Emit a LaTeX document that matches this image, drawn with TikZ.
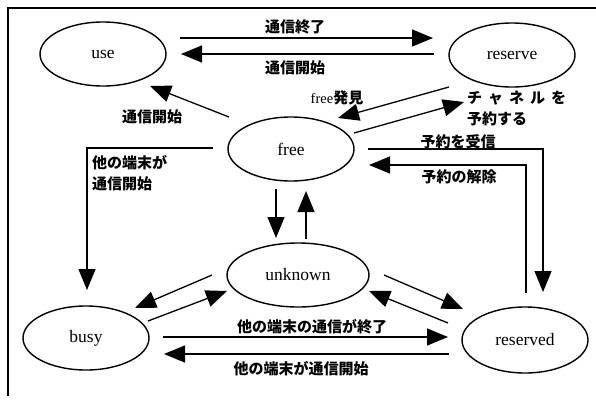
\documentclass[tikz,border=0pt]{standalone}
\usepackage{fontspec}
\setmainfont{Liberation Serif}
\newfontfamily\jp{Noto Sans CJK JP}
\usetikzlibrary{shapes.geometric,arrows.meta}
\begin{document}
\begin{tikzpicture}[x=1pt,y=-1pt,
  state/.style={draw,ellipse,line width=1.4pt,inner sep=0pt,minimum width=126pt,minimum height=64pt,font=\fontsize{17.5}{17.5}\selectfont},
  arr/.style={line width=1.3pt,-{Triangle[length=21pt,width=17pt]}},
  jlab/.style={font=\jp\bfseries\fontsize{15}{17}\selectfont,inner sep=0pt}]
\useasboundingbox (0,0) rectangle (596,399);
\draw[line width=1.2pt] (596,8) -- (8,8) -- (8,396);
% states
\node[state] (use) at (103,54) {use};
\node[state] (reserve) at (512,55) {reserve};
\node[state] (free) at (291,149) {free};
\node[state,minimum width=142pt] (unknown) at (298,275) {unknown};
\node[state] (busy) at (86,338) {busy};
\node[state,minimum height=66pt] (reserved) at (525,340) {reserved};
% endpoints
\coordinate (a1s) at (180,38);  \coordinate (a1e) at (433,38);
\coordinate (a2s) at (434,54);  \coordinate (a2e) at (181,54);
\coordinate (a3s) at (229,117); \coordinate (a3e) at (150,86);
\coordinate (a4s) at (449,87);  \coordinate (a4e) at (338,118);
\coordinate (a5s) at (354,133); \coordinate (a5e) at (464,102);
\coordinate (a6s) at (368,149); \coordinate (a6e) at (543,292);
\coordinate (a7s) at (526,293); \coordinate (a7e) at (369,165);
\coordinate (a8s) at (276,189); \coordinate (a8e) at (276,238);
\coordinate (a9s) at (306,239); \coordinate (a9e) at (306,191);
\coordinate (a10s) at (213,148); \coordinate (a10e) at (87,290);
\coordinate (a11s) at (212,275); \coordinate (a11e) at (135,308);
\coordinate (a12s) at (148,321); \coordinate (a12e) at (227,291);
\coordinate (a13s) at (384,275); \coordinate (a13e) at (463,309);
\coordinate (a14s) at (448,323); \coordinate (a14e) at (369,291);
\coordinate (a15s) at (163,337); \coordinate (a15e) at (448,337);
\coordinate (a16s) at (449,354); \coordinate (a16e) at (164,354);
% connectors
\draw[arr] (a1s) -- (a1e);
\draw[arr] (a2s) -- (a2e);
\draw[arr] (a3s) -- (a3e);
\draw[arr] (a4s) -- (a4e);
\draw[arr] (a5s) -- (a5e);
\draw[arr] (a6s) -| (a6e);
\draw[arr] (a7s) |- (a7e);
\draw[arr] (a8s) -- (a8e);
\draw[arr] (a9s) -- (a9e);
\draw[arr] (a10s) -| (a10e);
\draw[arr] (a11s) -- (a11e);
\draw[arr] (a12s) -- (a12e);
\draw[arr] (a13s) -- (a13e);
\draw[arr] (a14s) -- (a14e);
\draw[arr] (a15s) -- (a15e);
\draw[arr] (a16s) -- (a16e);
% labels
\node[jlab] (l1) at (295,27) {通信終了};
\node[jlab] (l2) at (295,68) {通信開始};
\node[jlab] (l3) at (152,117) {通信開始};
\node[jlab] (l4) at (337,98) {{\rmfamily\mdseries\fontsize{14.5}{14.5}\selectfont free}発見};
\node[jlab,anchor=west] (l5a) at (467,98) {チ\hspace{6pt}ャ\hspace{6pt}ネ\hspace{6pt}ル\hspace{6pt}を};
\node[jlab,anchor=west] (l5b) at (467,119) {予約する};
\node[jlab] (l6) at (458,142) {予約を受信};
\node[jlab] (l7) at (459,177) {予約の解除};
\node[jlab,anchor=west] (l8a) at (92,163) {他の端末が};
\node[jlab,anchor=west] (l8b) at (92,184) {通信開始};
\node[jlab] (l9) at (312,327) {他の端末の通信が終了};
\node[jlab] (l10) at (301,369) {他の端末が通信開始};
\end{tikzpicture}
\end{document}
